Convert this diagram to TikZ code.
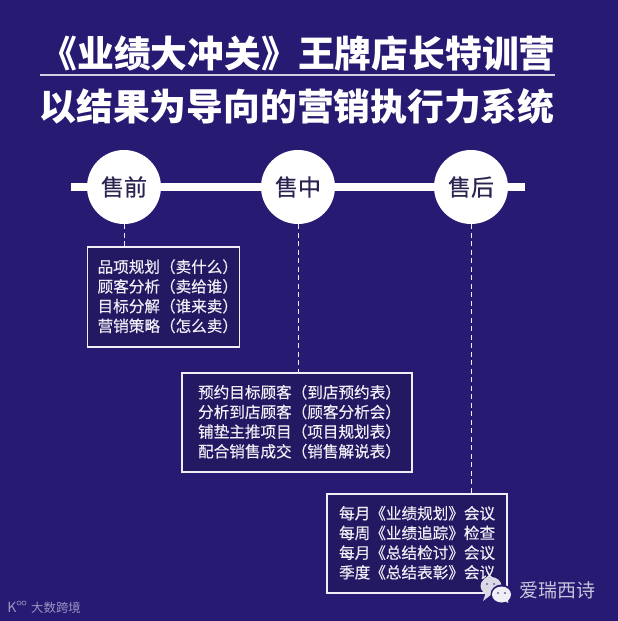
\documentclass[tikz,border=0pt]{standalone}
\usepackage{fontspec}
\setmainfont{Noto Sans CJK SC}
\newfontfamily\listfont{Noto Sans CJK SC}[FakeBold=0.35]
\definecolor{bgblue}{HTML}{261A72}
\definecolor{boxblue}{HTML}{231862}
\definecolor{inkblue}{HTML}{2B2450}
\definecolor{softwhite}{HTML}{F0EEF4}
\definecolor{logogrey}{HTML}{9A95C2}
\tikzset{
    titletext/.style={text=white, font=\fontsize{36.8}{40}\selectfont\bfseries, inner sep=0pt},
    stagecircle/.style={circle, fill=white, minimum size=74pt, inner sep=0pt, text=inkblue, font=\listfont\fontsize{23}{26}\selectfont},
    listbox/.style={draw=softwhite, line width=1.2pt, fill=boxblue, inner sep=0pt},
    listtext/.style={text=softwhite, align=left, inner sep=0pt, anchor=west, yshift=0.7pt, font=\listfont\fontsize{15.6}{19.7}\selectfont},
    linkline/.style={softwhite, line width=0.8pt, dash pattern=on 5pt off 3.5pt},
}
\begin{document}
\begin{tikzpicture}[x=1pt, y=-1pt]
    \useasboundingbox (0,0) rectangle (618,621);
    \fill[bgblue] (0,0) rectangle (618,621);

    % Title and rule
    \node[titletext] (titleone) at (298,53) {《业绩大冲关》王牌店长特训营};
    \node[titletext] (titletwo) at (297,106) {以结果为导向的营销执行力系统};
    \coordinate (ruleleft) at (40,75);
    \coordinate (ruleright) at (555,75);
    \draw[line width=1.6pt, color=softwhite!85!bgblue] (ruleleft) -- (ruleright);

    % Timeline
    \coordinate (barleft) at (71,187);
    \coordinate (barright) at (525,187);
    \draw[white, line width=8.5pt] (barleft) -- (barright);
    \node[stagecircle] (before) at (124,187) {售前};
    \node[stagecircle] (during) at (298,187) {售中};
    \node[stagecircle] (after) at (471,187) {售后};

    % Boxes
    \node[listbox, minimum width=152pt, minimum height=100pt] (beforebox) at (163.5,297) {};
    \node[listtext, xshift=10.5pt] (beforetext) at (beforebox.west) {品项规划（卖什么）\\顾客分析（卖给谁）\\目标分解（谁来卖）\\营销策略（怎么卖）};
    \node[listbox, minimum width=230pt, minimum height=99pt] (duringbox) at (297,422.5) {};
    \node[listtext, xshift=16.5pt] (duringtext) at (duringbox.west) {预约目标顾客（到店预约表）\\分析到店顾客（顾客分析会）\\铺垫主推项目（项目规划表）\\配合销售成交（销售解说表）};
    \node[listbox, minimum width=180pt, minimum height=99pt] (afterbox) at (417,543.5) {};
    \node[listtext, xshift=12.5pt] (aftertext) at (afterbox.west) {每月《业绩规划》会议\\每周《业绩追踪》检查\\每月《总结检讨》会议\\季度《总结表彰》会议};

    % Dashed links
    \draw[linkline] (before) -- (before |- beforebox.north);
    \draw[linkline] (during) -- (during |- duringbox.north);
    \draw[linkline] (after) -- (after |- afterbox.north);

    % Watermark
    \fill[softwhite!90!bgblue] (491,586) ellipse (10.5pt and 9pt);
    \fill[softwhite!90!bgblue] (486,592) -- (483,601) -- (492,594) -- cycle;
    \fill[bgblue] (501.5,594.5) ellipse (11pt and 10pt);
    \fill[softwhite] (501.5,594.5) ellipse (9.5pt and 8pt);
    \fill[softwhite] (504,600) -- (508,603) -- (508,598) -- cycle;
    \fill[bgblue!70!white] (487,584) circle (1.2pt) (494,584) circle (1.2pt);
    \fill[bgblue!70!white] (498,593) circle (1.2pt) (505,593) circle (1.2pt);
    \node[text=softwhite!80!bgblue, inner sep=0pt, font=\fontsize{19}{22}\selectfont] (wechatname) at (557,590) {爱瑞西诗};

    % Logo bottom left
    \node[text=logogrey, inner sep=0pt, font=\fontsize{12.4}{14}\selectfont] (logotext) at (56,608) {大数跨境};
    \node[text=logogrey, inner sep=0pt, font=\fontsize{14}{14}\selectfont] (logok) at (12,607) {K};
    \draw[logogrey, line width=0.6pt] (19,603) circle (2pt) (24,603) circle (2pt);
\end{tikzpicture}
\end{document}
